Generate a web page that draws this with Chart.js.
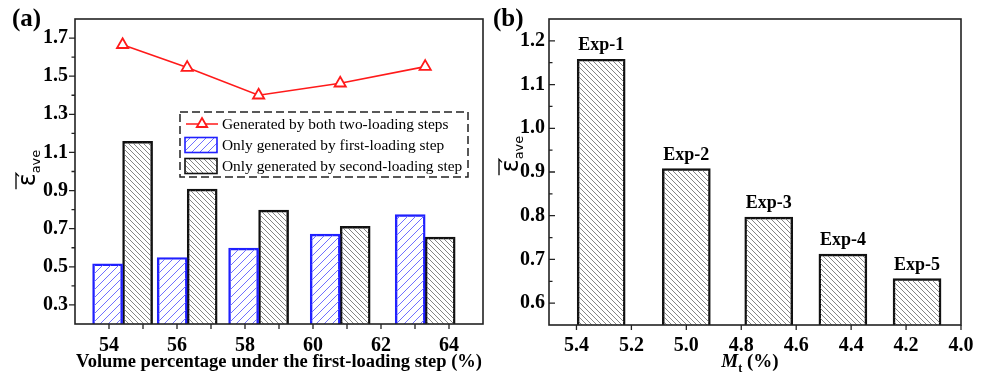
<!DOCTYPE html>
<html>
<head>
<meta charset="utf-8">
<script src="https://cdn.jsdelivr.net/npm/chart.js@4.4.1/dist/chart.umd.min.js"></script>
<style>
  body { margin: 0; background: #fff; }
  #wrap { position: relative; width: 984px; height: 381px; }
  #ca { position: absolute; left: 0; top: 0; }
  #cb { position: absolute; left: 492px; top: 0; }
</style>
</head>
<body>
<div id="wrap">
  <canvas id="ca" width="492" height="381"></canvas>
  <canvas id="cb" width="492" height="381"></canvas>
</div>
<script>
// panel (a)
const volPct = [54.4, 56.3, 58.4, 60.8, 63.3];
const bothSteps = [1.665, 1.545, 1.400, 1.463, 1.550];
const firstOnly = [0.516, 0.549, 0.598, 0.672, 0.774];
const secondOnly = [1.158, 0.908, 0.797, 0.712, 0.656];
const legendA = ['Generated by both two-loading steps', 'Only generated by first-loading step', 'Only generated by second-loading step'];
const xTicksA = [54, 56, 58, 60, 62, 64];
const yTicksA = [0.3, 0.5, 0.7, 0.9, 1.1, 1.3, 1.5, 1.7];

// panel (b)
const mtPct = [5.31, 5.00, 4.70, 4.43, 4.16];
const expLabels = ['Exp-1', 'Exp-2', 'Exp-3', 'Exp-4', 'Exp-5'];
const expValues = [1.158, 0.908, 0.797, 0.712, 0.656];
const xTicksB = [5.4, 5.2, 5.0, 4.8, 4.6, 4.4, 4.2, 4.0];
const yTicksB = [0.6, 0.7, 0.8, 0.9, 1.0, 1.1, 1.2];

const SERIF = '"Liberation Serif", "Times New Roman", serif';
Chart.defaults.font.family = SERIF;
Chart.defaults.color = '#000';

const mids = arr => arr.slice(1).map((v, i) => (v + arr[i]) / 2);

function hatch(color, s, dir, lw) {
  const c = document.createElement('canvas');
  c.width = s; c.height = s;
  const g = c.getContext('2d');
  g.strokeStyle = color; g.lineWidth = lw;
  g.beginPath();
  if (dir > 0) {
    g.moveTo(0, s); g.lineTo(s, 0);
    g.moveTo(-1, 1); g.lineTo(1, -1);
    g.moveTo(s - 1, s + 1); g.lineTo(s + 1, s - 1);
  } else {
    g.moveTo(0, 0); g.lineTo(s, s);
    g.moveTo(-1, s - 1); g.lineTo(1, s + 1);
    g.moveTo(s - 1, -1); g.lineTo(s + 1, 1);
  }
  g.stroke();
  return g.createPattern(c, 'repeat');
}
const blueHatch = hatch('#7070ff', 8, 1, 1);
const greyHatch = hatch('#666', 5, -1, 0.8);

function epsTitle(ctx, cx, cy) {
  ctx.save();
  ctx.translate(cx, cy);
  ctx.rotate(-Math.PI / 2);
  ctx.fillStyle = '#000';
  ctx.textBaseline = 'alphabetic';
  ctx.textAlign = 'left';
  ctx.font = '24px "DejaVu Sans"';
  const we = ctx.measureText('ε').width;
  ctx.font = '13px "DejaVu Sans"';
  const ws = ctx.measureText('ave').width;
  const u = -(we + ws) / 2;
  ctx.font = '24px "DejaVu Sans"';
  ctx.fillText('ε', u, 0);
  ctx.font = '13px "DejaVu Sans"';
  ctx.fillText('ave', u + we, 5);
  ctx.strokeStyle = '#000';
  ctx.lineWidth = 1.3;
  ctx.beginPath();
  ctx.moveTo(u - 3, -19);
  ctx.lineTo(u + we, -19);
  ctx.lineTo(u + we - 3, -16);
  ctx.stroke();
  ctx.restore();
}

// frame, ticks and extra texts
const framePlugin = {
  id: 'frame',
  afterDraw(chart, args, o) {
    const {ctx, chartArea: a, scales: {x, y}} = chart;
    ctx.save();
    ctx.strokeStyle = '#222';
    ctx.lineWidth = 1.6;
    ctx.strokeRect(a.left, a.top, a.right - a.left, a.bottom - a.top);
    ctx.lineWidth = 1.3;
    ctx.beginPath();
    const yt = (vals, len) => vals.forEach(v => {
      const p = y.getPixelForValue(v);
      const d = o.yInward ? len : -len;
      ctx.moveTo(a.left, p); ctx.lineTo(a.left + d, p);
    });
    const xt = (vals, len) => vals.forEach(v => {
      const p = x.getPixelForValue(v);
      ctx.moveTo(p, a.bottom); ctx.lineTo(p, a.bottom + len);
    });
    yt(o.yMajor, 6); yt(o.yMinor, 3.5);
    xt(o.xMajor, 5); xt(o.xMinor, 5);
    ctx.stroke();

    ctx.fillStyle = '#000';
    ctx.font = 'bold 25px ' + SERIF;
    ctx.textBaseline = 'alphabetic';
    ctx.textAlign = 'left';
    ctx.fillText(o.panel, o.panelX, 26);

    epsTitle(ctx, a.left + o.epsDx, o.epsY);
    if (o.extra) o.extra(chart);
    ctx.restore();
  }
};

function legendBoxA(chart) {
  const {ctx, chartArea: a} = chart;
  const ds = chart.data.datasets;
  const L = a.left + 105, T = a.top + 93, W = 288, H = 65;
  ctx.save();
  ctx.strokeStyle = '#222';
  ctx.lineWidth = 1.5;
  ctx.setLineDash([8, 4]);
  ctx.strokeRect(L, T, W, H);
  ctx.setLineDash([]);
  const rows = [T + 12, T + 33, T + 54];
  // line + triangle
  ctx.strokeStyle = ds[0].borderColor;
  ctx.lineWidth = 1.5;
  ctx.beginPath();
  ctx.moveTo(L + 6, rows[0]); ctx.lineTo(L + 38, rows[0]);
  ctx.stroke();
  const r = 6, cx = L + 22, cy = rows[0];
  ctx.beginPath();
  ctx.moveTo(cx, cy - r);
  ctx.lineTo(cx + r * 0.866, cy + r * 0.5);
  ctx.lineTo(cx - r * 0.866, cy + r * 0.5);
  ctx.closePath();
  ctx.fillStyle = '#fff';
  ctx.fill();
  ctx.lineWidth = 1.8;
  ctx.stroke();
  // swatches
  [1, 2].forEach(i => {
    ctx.fillStyle = ds[i].backgroundColor;
    ctx.fillRect(L + 5, rows[i] - 7.5, 32, 15);
    ctx.strokeStyle = ds[i].borderColor;
    ctx.lineWidth = 1.6;
    ctx.strokeRect(L + 5, rows[i] - 7.5, 32, 15);
  });
  ctx.fillStyle = '#000';
  ctx.font = '15.4px ' + SERIF;
  ctx.textBaseline = 'middle';
  ctx.textAlign = 'left';
  ds.forEach((d, i) => ctx.fillText(d.label, L + 42, rows[i] + 1));
  ctx.restore();
}

function extrasB(chart) {
  const {ctx, chartArea: a} = chart;
  const meta = chart.getDatasetMeta(0);
  ctx.save();
  ctx.fillStyle = '#000';
  ctx.font = 'bold 18px ' + SERIF;
  ctx.textAlign = 'center';
  ctx.textBaseline = 'alphabetic';
  meta.data.forEach((bar, i) => ctx.fillText(expLabels[i], bar.x, bar.y - 9));
  // axis title M_t (%)
  ctx.textAlign = 'left';
  const m = 'M', t = 't', rest = ' (%)';
  ctx.font = 'italic bold 19px ' + SERIF;
  const wm = ctx.measureText(m).width;
  ctx.font = 'bold 12px ' + SERIF;
  const wt = ctx.measureText(t).width;
  ctx.font = 'bold 19px ' + SERIF;
  const wr = ctx.measureText(rest).width;
  let x0 = (a.left + a.right) / 2 - 5 - (wm + wt + wr) / 2;
  const base = 367;
  ctx.font = 'italic bold 19px ' + SERIF;
  ctx.fillText(m, x0, base);
  ctx.font = 'bold 12px ' + SERIF;
  ctx.fillText(t, x0 + wm, base + 5);
  ctx.font = 'bold 19px ' + SERIF;
  ctx.fillText(rest, x0 + wm + wt, base);
  ctx.restore();
}

const tickFont = {family: SERIF, size: 20, weight: 'bold'};
const noGrid = {display: false, drawTicks: false};

new Chart(document.getElementById('ca'), {
  type: 'bar',
  data: {
    datasets: [
      {
        type: 'line', label: legendA[0],
        data: volPct.map((v, i) => ({x: v, y: bothSteps[i]})),
        borderColor: '#ff1a1a', borderWidth: 1.6, tension: 0,
        pointStyle: 'triangle', pointRadius: 6.5,
        pointBackgroundColor: '#fff', pointBorderColor: '#ff1a1a', pointBorderWidth: 1.8,
        order: 0
      },
      {
        label: legendA[1],
        data: volPct.map((v, i) => ({x: v, y: firstOnly[i]})),
        backgroundColor: blueHatch, borderColor: '#2020ff', borderWidth: 1.8,
        barThickness: 30, base: 0.2, order: 1
      },
      {
        label: legendA[2],
        data: volPct.map((v, i) => ({x: v, y: secondOnly[i]})),
        backgroundColor: greyHatch, borderColor: '#111', borderWidth: 1.8,
        barThickness: 30, base: 0.2, order: 1
      }
    ]
  },
  options: {
    responsive: false,
    animation: false,
    layout: {padding: {top: 19, right: 9, left: 0, bottom: 0}},
    plugins: {
      legend: {display: false},
      tooltip: {enabled: false},
      frame: {
        panel: '(a)', panelX: 12,
        yMajor: yTicksA, yMinor: mids(yTicksA), yInward: false,
        xMajor: xTicksA, xMinor: mids(xTicksA),
        epsDx: -40, epsY: 168,
        extra: legendBoxA
      }
    },
    scales: {
      x: {
        type: 'linear', min: 53, max: 65, offset: false,
        grid: noGrid, border: {display: false},
        afterBuildTicks: s => { s.ticks = xTicksA.map(v => ({value: v})); },
        afterFit: s => { s.height = 57; },
        ticks: {font: tickFont, padding: 9.5, maxRotation: 0, autoSkip: false},
        title: {
          display: true, text: 'Volume percentage under the first-loading step (%)',
          font: {family: SERIF, size: 18.5, weight: 'bold'}, padding: {top: 0, bottom: 8}
        }
      },
      y: {
        min: 0.2, max: 1.8,
        grid: noGrid, border: {display: false},
        afterBuildTicks: s => { s.ticks = yTicksA.map(v => ({value: v})); },
        afterFit: s => { s.width = 75; },
        ticks: {font: tickFont, padding: 7, callback: v => v.toFixed(1)}
      }
    }
  },
  plugins: [framePlugin]
});

new Chart(document.getElementById('cb'), {
  type: 'bar',
  data: {
    datasets: [{
      label: 'Exp',
      data: mtPct.map((v, i) => ({x: v, y: expValues[i]})),
      backgroundColor: greyHatch, borderColor: '#111', borderWidth: 1.8,
      barThickness: 48, base: 0.55
    }]
  },
  options: {
    responsive: false,
    animation: false,
    layout: {padding: {top: 19, right: 23, left: 0, bottom: 0}},
    plugins: {
      legend: {display: false},
      tooltip: {enabled: false},
      frame: {
        panel: '(b)', panelX: 1,
        yMajor: yTicksB, yMinor: mids(yTicksB), yInward: true,
        xMajor: xTicksB, xMinor: [],
        epsDx: -31, epsY: 154,
        extra: extrasB
      }
    },
    scales: {
      x: {
        type: 'linear', min: 4.0, max: 5.5, reverse: true, offset: false,
        grid: noGrid, border: {display: false},
        afterBuildTicks: s => { s.ticks = xTicksB.map(v => ({value: v})); },
        afterFit: s => { s.height = 56; },
        ticks: {font: tickFont, padding: 9, maxRotation: 0, autoSkip: false, callback: v => v.toFixed(1)}
      },
      y: {
        min: 0.55, max: 1.25,
        grid: noGrid, border: {display: false},
        afterBuildTicks: s => { s.ticks = yTicksB.map(v => ({value: v})); },
        afterFit: s => { s.width = 57; },
        ticks: {font: tickFont, padding: 4, callback: v => v.toFixed(1)}
      }
    }
  },
  plugins: [framePlugin]
});
</script>
</body>
</html>
